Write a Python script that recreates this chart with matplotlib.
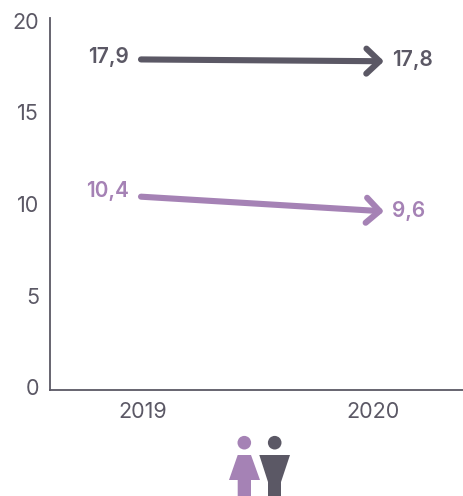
import matplotlib
matplotlib.use("Agg")
import matplotlib.pyplot as plt
from matplotlib.patches import Circle, Polygon
from matplotlib.transforms import Affine2D, offset_copy

years = ["2019", "2020"]
men = [17.9, 17.8]
women = [10.4, 9.6]
men_labels = ["17,9", "17,8"]
women_labels = ["10,4", "9,6"]
y_ticks = [0, 5, 10, 15, 20]

DARK = "#5b5865"
PURPLE = "#a582b5"
W, H = 463, 496

plt.rcParams["font.family"] = ["Inter", "DejaVu Sans"]

fig = plt.figure(figsize=(W / 100, H / 100), dpi=100)
ax = fig.add_axes([50 / W, (H - 390) / H, (W - 50) / W, 372 / H])

# 18.3 px per unit, zero sits 3 px above the axis line
ax.set_ylim(-3 / 18.3, 369 / 18.3)
x_pos = [0, 1]
ax.set_xlim(-93 / 230, 1 + 90 / 230)

for s in ["top", "right"]:
    ax.spines[s].set_visible(False)
for s in ["left", "bottom"]:
    ax.spines[s].set_color(DARK)
    ax.spines[s].set_linewidth(1.3)

ax.set_xticks(x_pos, years)
ax.set_yticks(y_ticks)
ax.tick_params(length=0, labelsize=15.5, labelcolor=DARK)
ax.tick_params(axis="y", pad=8)
ax.tick_params(axis="x", pad=9)

tip = offset_copy(ax.transData, fig=fig, x=11, y=0, units="dots")
start = offset_copy(ax.transData, fig=fig, x=-2, y=0, units="dots")
for vals, labels, col, lift in [(men, men_labels, DARK, (2, 1)),
                                (women, women_labels, PURPLE, (6, 0))]:
    ax.annotate("", xy=(1, vals[1]), xycoords=tip,
                xytext=(0, vals[0]), textcoords=start,
                arrowprops=dict(arrowstyle="->,head_length=0.95,head_width=0.9",
                                color=col, lw=4.4, shrinkA=0, shrinkB=0,
                                capstyle="round", joinstyle="round"))
    ax.annotate(labels[0], (0, vals[0]), xytext=(-14, lift[0]), textcoords="offset pixels",
                ha="right", va="center", color=col, fontsize=15, fontweight="semibold")
    ax.annotate(labels[1], (1, vals[1]), xytext=(19, lift[1]), textcoords="offset pixels",
                ha="left", va="center", color=col, fontsize=15, fontweight="semibold")

# little woman and man icons under the axis, in image pixels
px = Affine2D().scale(1, -1).translate(0, H)
icons = [
    Circle((244.3, 442.7), 6.8, color=PURPLE),
    Polygon([(237.7, 455), (251, 455), (260, 480), (251, 480), (251, 496),
             (237.7, 496), (237.7, 480), (229, 480)], color=PURPLE),
    Circle((274.7, 442.7), 6.8, color=DARK),
    Polygon([(259.3, 455), (290, 455), (281, 482), (281, 496),
             (268, 496), (268, 482)], color=DARK),
]
for p in icons:
    p.set_transform(px)
    p.set_linewidth(0)
    fig.add_artist(p)

fig.savefig("out.png", dpi=100)
